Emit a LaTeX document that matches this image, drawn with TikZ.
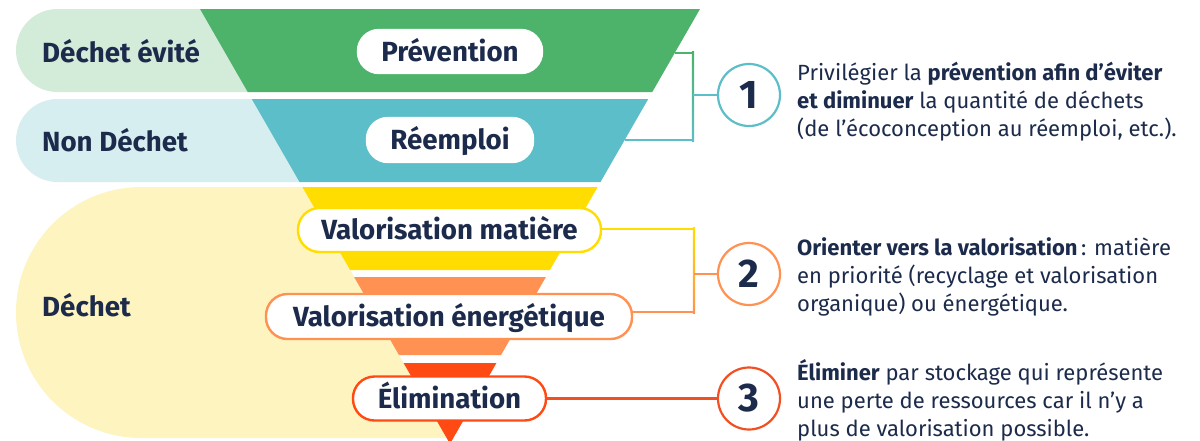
\documentclass[tikz,border=0pt]{standalone}
\usepackage{fontspec}
\setmainfont{Fira Sans}
\definecolor{navy}{HTML}{1C2B4B}
\definecolor{cgreen}{HTML}{4DB26A}
\definecolor{lgreen}{HTML}{D3EBD9}
\definecolor{cteal}{HTML}{5CBEC8}
\definecolor{lteal}{HTML}{D6EEF0}
\definecolor{cyellow}{HTML}{FFDD00}
\definecolor{lyellow}{HTML}{FEF4C0}
\definecolor{corange}{HTML}{FF9152}
\definecolor{cred}{HTML}{FF4A14}
\definecolor{credline}{HTML}{F24F22}
\tikzset{
  pill/.style={rounded corners=#1, fill=white, inner sep=0pt, text=navy,
    font=\bfseries\fontsize{27.7}{30}\selectfont, text height=19.5pt, text depth=0pt, line width=2.4pt},
  pill/.default=21pt,
  sidelabel/.style={anchor=west, inner sep=0pt, text=navy,
    font=\bfseries\fontsize{27.7}{30}\selectfont, text height=19.5pt, text depth=0pt},
  numcircle/.style={circle, draw=#1, line width=2.2pt, fill=white, minimum size=62pt, inner sep=0pt,
    text=navy, font=\bfseries\fontsize{40}{40}\selectfont},
  body/.style={anchor=base west, inner sep=0pt, align=left, text=navy,
    font=\fontsize{22}{28}\selectfont},
  link/.style={line width=2.1pt}
}
\begin{document}
\begin{tikzpicture}[x=1pt,y=-1pt]
\useasboundingbox[fill=white] (0,0) rectangle (1200,440);
% light background bands
\fill[lgreen] (200,9) [rounded corners=41.5pt] -- (16,9) -- (16,92) [sharp corners] -- (247.7,92) -- cycle;
\fill[lteal] (251.75,99) [rounded corners=41.5pt] -- (16,99) -- (16,182) [sharp corners] -- (299.5,182) -- cycle;
\fill[lyellow] (302.35,187) [rounded corners=125.5pt] -- (16,187) -- (16,438) [sharp corners] -- (446.7,438) -- cycle;
% funnel
\fill[cgreen] (200,9) -- (700,9) -- (652.3,92) -- (247.7,92) -- cycle;
\fill[cteal] (251.75,99) -- (648.25,99) -- (600.5,182) -- (299.5,182) -- cycle;
\fill[cyellow] (302.35,187) -- (597.65,187) -- (549.9,270) -- (350.1,270) -- cycle;
\fill[corange] (354.1,277) -- (545.9,277) -- (501.05,355) -- (398.95,355) -- cycle;
\fill[cred] (403.55,363) -- (496.45,363) -- (450,443.8) -- cycle;
% side labels
\node[sidelabel] (l1) at (42,52.5) {Déchet évité};
\node[sidelabel] (l2) at (42,141.5) {Non Déchet};
\node[sidelabel] (l3) at (42,307) {Déchet};
% pills
\node[pill, draw=white, minimum width=184pt, minimum height=43pt] (p1) at (450,51.5) {Prévention};
\node[pill, draw=white, minimum width=166pt, minimum height=44pt] (p2) at (450,140) {Réemploi};
\node[pill=21.5pt, draw=cyellow, minimum width=303pt, minimum height=44pt] (p3) at (449.5,230) {Valorisation matière};
\node[pill=21.5pt, draw=corange, minimum width=366pt, minimum height=45pt] (p4) at (449,316.5) {Valorisation énergétique};
\node[pill=21.5pt, draw=cred, minimum width=193pt, minimum height=44pt] (p5) at (449.5,398.5) {Élimination};
% numbered circles
\node[numcircle=cteal] (c1) at (749,95) {1};
\node[numcircle=corange] (c2) at (749,274) {2};
\node[numcircle=credline] (c3) at (749,398.5) {3};
% bracket 1
\coordinate (b1t) at (674.7,53);
\coordinate (b1b) at (624.7,140);
\coordinate (b1) at (693,95);
\draw[link, cgreen] (b1t) -- (b1t -| b1);
\shade[top color=cgreen, bottom color=cteal] (691.95,51.95) rectangle (694.05,141.05);
\draw[link, cteal] (b1b) -- (b1b -| b1);
\draw[link, cteal] (b1) -- (c1);
% bracket 2
\coordinate (b2) at (694,274);
\coordinate (b2t) at (694,229);
\coordinate (b2b) at (694,312);
\draw[link, cyellow] (p3.east |- b2t) -- (b2t);
\shade[top color=cyellow, bottom color=corange] (692.95,227.95) rectangle (695.05,313.05);
\draw[link, corange] (p4.east |- b2b) -- (b2b);
\draw[link, corange] (b2) -- (c2);
% line 3
\draw[link, credline] (p5.east) -- (c3);
% texts (base = baseline of the last line)
\node[body] (t1) at (797,136) {Privilégier la \textbf{prévention afin d’éviter}\\\textbf{et diminuer} la quantité de déchets\\(de l’écoconception au réemploi, etc.).};
\node[body] (t2) at (797,311.5) {\textbf{Orienter vers la valorisation}\,: matière\\en priorité (recyclage et valorisation\\organique) ou énergétique.};
\node[body] (t3) at (797,436) {\textbf{Éliminer} par stockage qui représente\\une perte de ressources car il n’y a\\plus de valorisation possible.};
\end{tikzpicture}
\end{document}
